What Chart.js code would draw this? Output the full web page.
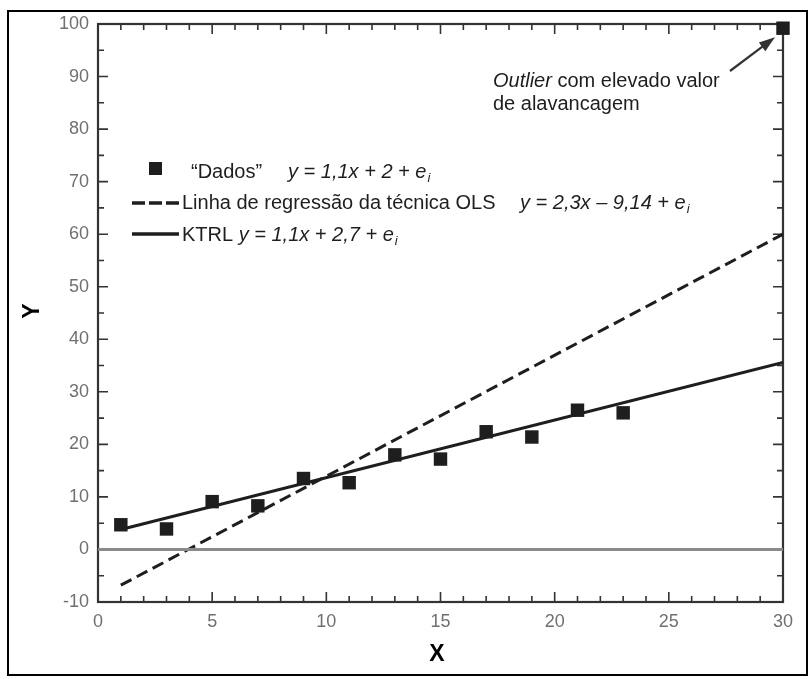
<!DOCTYPE html>
<html>
<head>
<meta charset="utf-8">
<script src="https://cdn.jsdelivr.net/npm/chart.js@4/dist/chart.umd.min.js"></script>
<style>
  html, body { margin: 0; padding: 0; background: #fff; }
  #wrap { width: 811px; height: 679px; }
</style>
</head>
<body>
<div id="wrap"><canvas id="chart" width="811" height="679"></canvas></div>
<script>
// pontos "Dados"
const dadosX = [1, 3, 5, 7, 9, 11, 13, 15, 17, 19, 21, 23, 30];
const dadosY = [4.7, 3.9, 9.1, 8.3, 13.5, 12.7, 18.0, 17.2, 22.4, 21.4, 26.5, 26.0, 99.2];

// extremos das retas
const olsX = [1, 30];
const olsY = [-6.8, 60.0];
const ktrlX = [1, 30];
const ktrlY = [3.8, 35.6];
const zeroX = [0, 30];
const zeroY = [0, 0];

const xTicks = [0, 5, 10, 15, 20, 25, 30];
const yTicks = [-10, 0, 10, 20, 30, 40, 50, 60, 70, 80, 90, 100];

const FONT = '"Liberation Sans", Arial, Helvetica, sans-serif';
const INK = '#1e1e1e';

const toPts = (xs, ys) => xs.map((x, i) => ({ x: x, y: ys[i] }));

// moldura com marcas internas nos quatro lados
const framePlugin = {
    id: 'frame',
    beforeDatasetsDraw(chart) {
        const { ctx, chartArea: a, scales } = chart;
        const sx = scales.x, sy = scales.y;
        ctx.save();
        ctx.strokeStyle = '#333';
        ctx.lineWidth = 2.2;
        ctx.strokeRect(a.left, a.top, a.right - a.left, a.bottom - a.top);
        ctx.lineWidth = 1.6;
        ctx.beginPath();
        for (let v = 0; v <= 30; v++) {
            const px = sx.getPixelForValue(v);
            const len = v % 5 === 0 ? 10 : 6;
            ctx.moveTo(px, a.bottom); ctx.lineTo(px, a.bottom - len);
            ctx.moveTo(px, a.top); ctx.lineTo(px, a.top + len);
        }
        for (let v = -10; v <= 100; v += 5) {
            const py = sy.getPixelForValue(v);
            const len = v % 10 === 0 ? 10 : 6;
            ctx.moveTo(a.left, py); ctx.lineTo(a.left + len, py);
            ctx.moveTo(a.right, py); ctx.lineTo(a.right - len, py);
        }
        ctx.stroke();
        ctx.restore();
    }
};

function textWithSub(ctx, x, y, main, sub) {
    ctx.fillText(main, x, y);
    const w = ctx.measureText(main).width;
    ctx.save();
    ctx.font = 'italic 13px ' + FONT;
    ctx.fillText(sub, x + w + 1, y + 6);
    ctx.restore();
}

const overlayPlugin = {
    id: 'overlay',
    afterDraw(chart) {
        const { ctx, scales } = chart;
        ctx.save();
        // borda externa
        ctx.strokeStyle = '#000';
        ctx.lineWidth = 2;
        ctx.strokeRect(8, 11, 799, 664);

        // titulos dos eixos
        ctx.fillStyle = '#000';
        ctx.font = 'bold 23px ' + FONT;
        ctx.textAlign = 'center';
        ctx.textBaseline = 'middle';
        ctx.fillText('X', 437, 655);
        ctx.save();
        ctx.translate(33, 311);
        ctx.rotate(-Math.PI / 2);
        ctx.fillText('Y', 0, 0);
        ctx.restore();

        // legenda
        ctx.textAlign = 'left';
        ctx.textBaseline = 'middle';
        ctx.fillStyle = INK;
        ctx.fillRect(149, 162, 13, 13);
        ctx.strokeStyle = INK;
        ctx.lineWidth = 3.5;
        ctx.setLineDash([13, 4]);
        ctx.beginPath(); ctx.moveTo(132, 203); ctx.lineTo(179, 203); ctx.stroke();
        ctx.setLineDash([]);
        ctx.beginPath(); ctx.moveTo(132, 234); ctx.lineTo(179, 234); ctx.stroke();

        ctx.font = '20px ' + FONT;
        ctx.fillText('\u201CDados\u201D', 191, 172);
        ctx.fillText('Linha de regressão da técnica OLS', 182, 203);
        ctx.fillText('KTRL', 182, 235);
        const kw = ctx.measureText('KTRL ').width;
        ctx.font = 'italic 20px ' + FONT;
        textWithSub(ctx, 288, 172, 'y = 1,1x + 2 + e', 'i');
        textWithSub(ctx, 520, 203, 'y = 2,3x \u2013 9,14 + e', 'i');
        textWithSub(ctx, 182 + kw, 235, 'y = 1,1x + 2,7 + e', 'i');

        // anotacao do outlier
        ctx.font = 'italic 20px ' + FONT;
        ctx.fillText('Outlier', 493, 81);
        const ow = ctx.measureText('Outlier').width;
        ctx.font = '20px ' + FONT;
        ctx.fillText(' com elevado valor', 493 + ow, 81);
        ctx.fillText('de alavancagem', 493, 104);

        // seta apontando para o outlier
        const tx = scales.x.getPixelForValue(dadosX[dadosX.length - 1]) - 8;
        const ty = scales.y.getPixelForValue(dadosY[dadosY.length - 1]) + 9;
        const fx = 730, fy = 71;
        const ang = Math.atan2(ty - fy, tx - fx);
        ctx.strokeStyle = '#333';
        ctx.fillStyle = '#333';
        ctx.lineWidth = 2.2;
        ctx.beginPath(); ctx.moveTo(fx, fy);
        ctx.lineTo(tx - 12 * Math.cos(ang), ty - 12 * Math.sin(ang)); ctx.stroke();
        ctx.beginPath();
        ctx.moveTo(tx, ty);
        ctx.lineTo(tx - 17 * Math.cos(ang - 0.32), ty - 17 * Math.sin(ang - 0.32));
        ctx.lineTo(tx - 17 * Math.cos(ang + 0.32), ty - 17 * Math.sin(ang + 0.32));
        ctx.closePath(); ctx.fill();
        ctx.restore();
    }
};

new Chart(document.getElementById('chart'), {
    type: 'scatter',
    data: {
        datasets: [
            {
                label: 'zero',
                data: toPts(zeroX, zeroY),
                showLine: true,
                borderColor: '#8a8a8a',
                borderWidth: 3,
                pointRadius: 0
            },
            {
                label: 'OLS',
                data: toPts(olsX, olsY),
                showLine: true,
                borderColor: INK,
                borderWidth: 3,
                borderDash: [12, 6],
                pointRadius: 0
            },
            {
                label: 'KTRL',
                data: toPts(ktrlX, ktrlY),
                showLine: true,
                borderColor: INK,
                borderWidth: 3,
                pointRadius: 0
            },
            {
                label: 'Dados',
                data: toPts(dadosX, dadosY),
                showLine: false,
                pointStyle: 'rect',
                pointRadius: 9.5,
                backgroundColor: INK,
                borderColor: INK,
                borderWidth: 0,
                clip: false
            }
        ]
    },
    options: {
        responsive: false,
        animation: false,
        layout: { padding: { left: 0, top: 24, right: 28, bottom: 0 } },
        plugins: { legend: { display: false }, tooltip: { enabled: false } },
        scales: {
            x: {
                type: 'linear', min: 0, max: 30,
                afterBuildTicks: s => { s.ticks = xTicks.map(v => ({ value: v })); },
                afterFit: s => { s.height = 77; },
                grid: { display: false, drawTicks: false },
                border: { display: false },
                ticks: { color: '#707070', font: { family: FONT, size: 18 }, padding: 9, maxRotation: 0 }
            },
            y: {
                type: 'linear', min: -10, max: 100,
                afterBuildTicks: s => { s.ticks = yTicks.map(v => ({ value: v })); },
                afterFit: s => { s.width = 98; },
                grid: { display: false, drawTicks: false },
                border: { display: false },
                ticks: { color: '#707070', font: { family: FONT, size: 18 }, padding: 9 }
            }
        }
    },
    plugins: [framePlugin, overlayPlugin]
});
</script>
</body>
</html>
